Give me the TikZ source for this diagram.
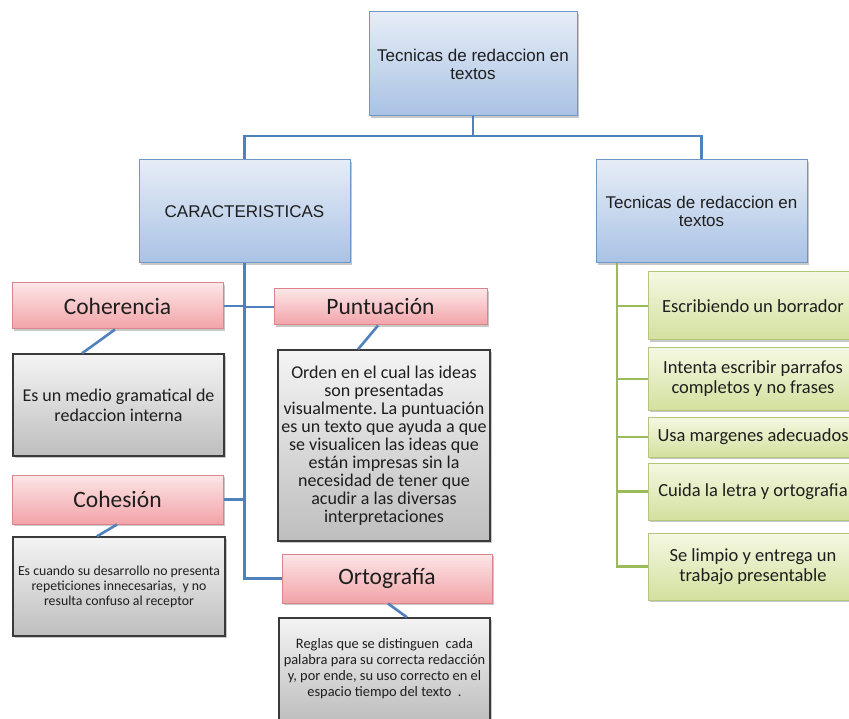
\documentclass[tikz,border=0pt]{standalone}
\usepackage{fontspec}
\setmainfont{Carlito}
\newfontfamily\arialf{Liberation Sans}
\usetikzlibrary{shadows}
\frenchspacing
\definecolor{bline}{HTML}{4F81BD}
\definecolor{gline}{HTML}{9BBB59}
\definecolor{txt}{HTML}{1E1E1E}
\definecolor{bluetop}{HTML}{E6EDF7}
\definecolor{bluebot}{HTML}{A9C2E4}
\definecolor{blueedge}{HTML}{7096C8}
\definecolor{redtop}{HTML}{FCE6E7}
\definecolor{redbot}{HTML}{F2A3A8}
\definecolor{rededge}{HTML}{D9858A}
\definecolor{greytop}{HTML}{F4F4F4}
\definecolor{greybot}{HTML}{BEBEBE}
\definecolor{greyedge}{HTML}{3A3A3A}
\definecolor{greentop}{HTML}{F5F8E2}
\definecolor{greenbot}{HTML}{D3E09E}
\definecolor{greenedge}{HTML}{B3C77C}
\tikzset{
  shad/.style={drop shadow={shadow xshift=1.5pt,shadow yshift=-2pt,opacity=0.3,fill=black!70}},
  bluebox/.style={shad,draw=blueedge,line width=1pt,top color=bluetop,bottom color=bluebot,
    text=txt,align=center,inner sep=0pt,font=\arialf\fontsize{17}{18}\selectfont},
  redbox/.style={shad,draw=rededge,line width=1pt,top color=redtop,bottom color=redbot,
    text=txt,align=center,inner sep=0pt,font=\fontsize{23.5}{25}\selectfont},
  greybox/.style={shad,draw=greyedge,line width=1.3pt,top color=greytop,bottom color=greybot,
    text=txt,align=center,inner sep=0pt},
  greenbox/.style={shad,draw=greenedge,line width=1pt,top color=greentop,bottom color=greenbot,
    text=txt,align=center,inner sep=0pt,font=\fontsize{18.5}{20}\selectfont},
  bconn/.style={draw=bline,line width=2.6pt},
  gconn/.style={draw=gline,line width=2.6pt},
}
\begin{document}
\begin{tikzpicture}[x=1pt,y=-1pt]
\useasboundingbox (0,0) rectangle (849,719);
\clip (0,0) rectangle (849,719);
\fill[white] (0,0) rectangle (849,719);

\coordinate (hub) at (473,136);
\coordinate (gx) at (617,0);

% boxes
\node[bluebox,minimum width=208,minimum height=104] (top) at (473,64) {Tecnicas de redaccion en\\textos};
\node[bluebox,minimum width=211,minimum height=103] (car) at (244.5,211.5) {CARACTERISTICAS};
\node[bluebox,minimum width=211,minimum height=103] (tec) at (701.5,211.5) {Tecnicas de redaccion en\\textos};

\node[redbox,minimum width=211,minimum height=46] (coh) at (117.5,306) {Coherencia};
\node[greybox,minimum width=211,minimum height=102,font=\fontsize{18}{20}\selectfont] (cohd) at (118.5,405)
  {Es un medio gramatical de\\redaccion interna};

\node[redbox,minimum width=213,minimum height=36] (pun) at (380.5,307) {Puntuación};
\node[greybox,minimum width=212,minimum height=191,font=\fontsize{18}{18}\selectfont] (pund) at (384,445.5)
  {Orden en el cual las ideas\\son presentadas\\visualmente. La puntuación\\es un texto que ayuda a que\\se visualicen las ideas que\\están impresas sin la\\necesidad de tener que\\acudir a las diversas\\interpretaciones};

\node[redbox,minimum width=211,minimum height=49] (coe) at (117.5,499.5) {Cohesión};
\node[greybox,minimum width=212,minimum height=99,font=\fontsize{13.8}{15}\selectfont] (coed) at (119,586.5)
  {Es cuando su desarrollo no presenta\\repeticiones innecesarias,\ \ y no\\resulta confuso al receptor};

\node[redbox,minimum width=210,minimum height=49] (ort) at (387,578.5) {Ortografía};
\node[greybox,minimum width=211,minimum height=102,font=\fontsize{14.4}{16}\selectfont] (ortd) at (384.5,669)
  {Reglas que se distinguen\ \ cada\\palabra para su correcta\ redacción\\y, por ende, su uso correcto en el\\espacio tiempo del texto\ \ .};

\node[greenbox,minimum width=210,minimum height=68] (g1) at (753,306) {Escribiendo un borrador};
\node[greenbox,minimum width=210,minimum height=62] (g2) at (753,379) {Intenta escribir parrafos\\completos y no frases};
\node[greenbox,minimum width=210,minimum height=40] (g3) at (753,437) {Usa margenes adecuados};
\node[greenbox,minimum width=210,minimum height=57] (g4) at (753,491.5) {Cuida la letra y ortografia};
\node[greenbox,minimum width=210,minimum height=67] (g5) at (753,566.5) {Se limpio y entrega un\\trabajo presentable};

% blue connectors
\draw[bconn] (top.south) -- (hub);
\draw[bconn] (car.north) -- (car.north |- hub) -| (tec.north);
\draw[bconn] (car.south) |- (ort.west);
\draw[bconn] (coh.east) -- (coh.east -| car.south);
\draw[bconn] (pun.west) -- (pun.west -| car.south);
\draw[bconn] (coe.east) -- (coe.east -| car.south);
\draw[bconn] ([xshift=-2.5]coh.south) -- ([xshift=-36.5]cohd.north);
\draw[bconn] ([xshift=-2.5]pun.south) -- ([xshift=-26]pund.north);
\draw[bconn] ([xshift=-0.5]coe.south) -- ([xshift=-22]coed.north);
\draw[bconn] ([xshift=1]ort.south) -- ([xshift=22.5]ortd.north);

% green connectors
\draw[gconn] (gx |- tec.south) |- (g5.west);
\draw[gconn] (g1.west) -- (g1.west -| gx);
\draw[gconn] (g2.west) -- (g2.west -| gx);
\draw[gconn] (g3.west) -- (g3.west -| gx);
\draw[gconn] (g4.west) -- (g4.west -| gx);
\end{tikzpicture}
\end{document}
